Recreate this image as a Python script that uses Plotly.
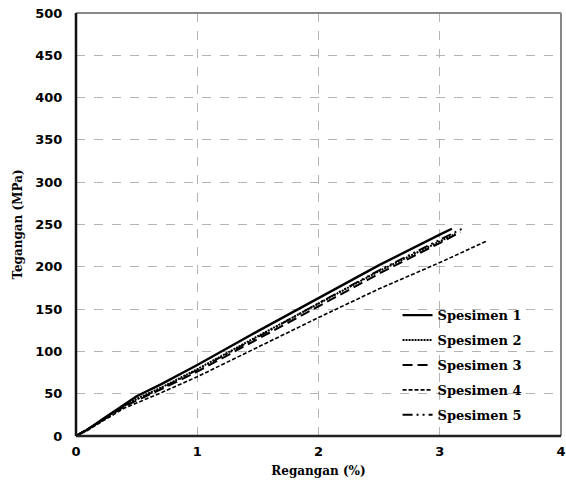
import plotly.graph_objects as go

names = ["Spesimen 1", "Spesimen 2", "Spesimen 3", "Spesimen 4", "Spesimen 5"]

s1_x = [0, 0.1, 0.2, 0.3, 0.4, 0.5, 0.7, 1.0, 1.5, 2.0, 2.5, 3.0, 3.1]
s1_y = [0, 8, 18, 28, 38, 47, 61, 84, 124, 163, 202, 238, 245]

s2_x = [0, 0.1, 0.2, 0.3, 0.4, 0.5, 0.7, 1.0, 1.5, 2.0, 2.5, 3.0, 3.13]
s2_y = [0, 8, 17, 27, 36, 44, 57, 79, 118, 156, 195, 230, 239]

s3_x = [0, 0.1, 0.2, 0.3, 0.4, 0.5, 0.7, 1.0, 1.5, 2.0, 2.5, 3.0, 3.17]
s3_y = [0, 8, 17, 26, 35, 42, 55, 76, 115, 153, 192, 228, 241]

s4_x = [0, 0.1, 0.2, 0.3, 0.4, 0.5, 0.7, 1.0, 1.5, 2.0, 2.5, 3.0, 3.38]
s4_y = [0, 7, 16, 25, 33, 39, 51, 70, 105, 140, 174, 205, 230]

s5_x = [0, 0.1, 0.2, 0.3, 0.4, 0.5, 0.7, 1.0, 1.5, 2.0, 2.5, 3.0, 3.2]
s5_y = [0, 8, 17, 27, 36, 43, 56, 78, 117, 157, 196, 232, 246]

xs = [s1_x, s2_x, s3_x, s4_x, s5_x]
ys = [s1_y, s2_y, s3_y, s4_y, s5_y]
dashes = ["solid", "2px,1px", "10px,5px", "4px,2px", "10px,4px,2px,4px,2px,4px"]
widths = [2.4, 2.0, 2.0, 1.6, 1.8]

fig = go.Figure()
for i in range(5):
    fig.add_trace(go.Scatter(
        x=xs[i], y=ys[i], mode="lines", name=names[i],
        legendgroup=names[i],
        line=dict(color="black", width=widths[i], dash=dashes[i]),
    ))

fig.update_layout(
    width=566, height=483,
    margin=dict(l=76, r=5, t=13, b=47),
    plot_bgcolor="white", paper_bgcolor="white",
    showlegend=True,
    legend=dict(
        x=0.663, y=0.321, xanchor="left", yanchor="top",
        bgcolor="rgba(0,0,0,0)", tracegroupgap=5,
        font=dict(family="DejaVu Serif", size=13, color="black", weight="bold"),
    ),
    xaxis=dict(
        range=[0, 4], dtick=1, showgrid=True, automargin=False,
        ticklabeloverflow="allow",
        gridcolor="#b4b4b4", griddash="dash", gridwidth=1,
        zeroline=False, showline=False,
        tickfont=dict(family="DejaVu Sans", size=13, color="black", weight="bold"),
        title=dict(text="Regangan (%)", standoff=9,
                   font=dict(family="DejaVu Serif", size=12, color="black", weight="bold")),
        ticks="outside", ticklen=3, tickcolor="rgba(0,0,0,0)",
    ),
    yaxis=dict(
        range=[0, 500], dtick=50, showgrid=True, automargin=False,
        ticklabeloverflow="allow",
        gridcolor="#b4b4b4", griddash="dash", gridwidth=1,
        zeroline=False, showline=False,
        tickfont=dict(family="DejaVu Sans", size=13, color="black", weight="bold"),
        title=dict(text="Tegangan (MPa)", standoff=10,
                   font=dict(family="DejaVu Serif", size=12, color="black", weight="bold")),
        ticks="outside", ticklen=10, tickcolor="rgba(0,0,0,0)",
    ),
)

# frame: grey top/right, black left/bottom
fig.add_shape(type="line", xref="paper", yref="paper", x0=0, x1=1, y0=1, y1=1,
              line=dict(color="#888888", width=2))
fig.add_shape(type="line", xref="paper", yref="paper", x0=1, x1=1, y0=0, y1=1,
              line=dict(color="#888888", width=2))
fig.add_shape(type="line", xref="paper", yref="paper", x0=0, x1=1, y0=0, y1=0,
              line=dict(color="#222222", width=2.5))
fig.add_shape(type="line", xref="paper", yref="paper", x0=0, x1=0, y0=0, y1=1,
              line=dict(color="#111111", width=2.5))

fig.write_html(
    "out.html",
    config={"displayModeBar": False},
    post_script="document.body.style.margin='0';document.body.style.overflow='hidden';",
)
